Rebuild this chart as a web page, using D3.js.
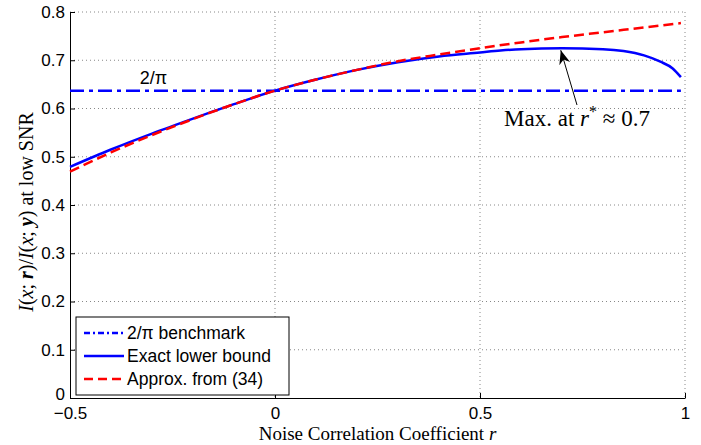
<!DOCTYPE html>
<html><head><meta charset="utf-8">
<script src="https://cdn.jsdelivr.net/npm/d3@7"></script>
<style>body{margin:0;background:#fff}svg{display:block}</style>
</head><body>
<svg id="c" width="701" height="445"></svg>
<script>
const rExact = [-0.5,-0.4,-0.3,-0.2,-0.1,0,0.1,0.2,0.3,0.4,0.5,0.55,0.6,0.7,0.8,0.85,0.9,0.94,0.97,0.99];
const vExact = [0.479,0.515,0.548,0.579,0.609,0.637,0.660,0.680,0.696,0.708,0.716,0.720,0.723,0.725,0.723,0.719,0.710,0.697,0.683,0.665];
const rApprox = [-0.5,-0.4,-0.3,-0.2,-0.1,0,0.1,0.2,0.3,0.4,0.5,0.6,0.7,0.8,0.9,0.99];
const vApprox = [0.469,0.509,0.545,0.578,0.609,0.637,0.660,0.680,0.698,0.712,0.725,0.737,0.748,0.758,0.768,0.777];
const benchmark = 0.6366;
const xTicks = [-0.5,0,0.5,1];
const yTicks = [0,0.1,0.2,0.3,0.4,0.5,0.6,0.7,0.8];
const legendLabels = ["2/\u03c0 benchmark","Exact lower bound","Approx. from (34)"];

const svg = d3.select("#c");
const L=70,R=685,T=12,B=398;
const x = d3.scaleLinear().domain([-0.5,1]).range([L,R]);
const y = d3.scaleLinear().domain([0,0.8]).range([B,T]);
const sans = "Liberation Sans, Arial, sans-serif";
const serif = "Liberation Serif, Times New Roman, serif";

// grid
const g = svg.append("g");
g.selectAll(".gx").data(xTicks.slice(1)).enter().append("line")
 .attr("x1",d=>x(d)).attr("x2",d=>x(d)).attr("y1",T).attr("y2",B)
 .attr("stroke","#888").attr("stroke-width",1).attr("stroke-dasharray","1,3");
g.selectAll(".gy").data(yTicks.slice(1)).enter().append("line")
 .attr("x1",L).attr("x2",R).attr("y1",d=>y(d)).attr("y2",d=>y(d))
 .attr("stroke","#888").attr("stroke-width",1).attr("stroke-dasharray","1,3");

// axes
const xa = svg.append("g").attr("transform",`translate(0,${B})`)
 .call(d3.axisBottom(x).tickValues(xTicks).tickSizeInner(-5).tickSizeOuter(0).tickPadding(9).tickFormat(d=>d===0?"0":(d===1?"1":String(d).replace("-","\u2212"))));
const ya = svg.append("g").attr("transform",`translate(${L},0)`)
 .call(d3.axisLeft(y).tickValues(yTicks).tickSizeInner(-5).tickSizeOuter(0).tickPadding(5).tickFormat(d=>d===0?"0":d3.format(".1f")(d)));
[xa,ya].forEach(a=>{a.select(".domain").attr("stroke","#000").attr("stroke-width",1);
 a.selectAll("text").attr("font-family",sans).attr("font-size",17).attr("fill","#000");
 a.selectAll(".tick line").attr("stroke","#000");});
ya.selectAll(".tick text").filter(d=>d===0).attr("dy","0.1em");

// lines
const line = d3.line().x(d=>x(d[0])).y(d=>y(d[1]));
svg.append("line").attr("x1",x(-0.5)).attr("x2",x(0.99)).attr("y1",y(benchmark)).attr("y2",y(benchmark))
 .attr("stroke","#0000ff").attr("stroke-width",2.5).attr("stroke-dasharray","14,5,4,5");
svg.append("path").datum(rExact.map((r,i)=>[r,vExact[i]])).attr("d",line.curve(d3.curveMonotoneX))
 .attr("fill","none").attr("stroke","#0000ff").attr("stroke-width",2.5);
svg.append("path").datum(rApprox.map((r,i)=>[r,vApprox[i]])).attr("d",line.curve(d3.curveMonotoneX))
 .attr("fill","none").attr("stroke","#ff0000").attr("stroke-width",2.5).attr("stroke-dasharray","10,5");

// 2/pi label
svg.append("text").attr("x",x(-0.33)).attr("y",y(benchmark)-7).attr("font-family",sans).attr("font-size",18).text("2/\u03c0");

// annotation
svg.append("defs").append("marker").attr("id","ah").attr("viewBox","0 0 10 10").attr("refX",10).attr("refY",5)
 .attr("markerWidth",14).attr("markerHeight",14).attr("markerUnits","userSpaceOnUse").attr("orient","auto")
 .append("path").attr("d","M0,1 L10,5 L0,9 L3,5 Z").attr("fill","#000");
svg.append("line").attr("x1",577).attr("y1",105).attr("x2",x(0.697)).attr("y2",y(0.725)+2)
 .attr("stroke","#000").attr("stroke-width",1).attr("marker-end","url(#ah)");
const an = svg.append("text").attr("x",577).attr("y",126).attr("text-anchor","middle").attr("font-family",serif).attr("font-size",23);
an.append("tspan").text("Max. at ");
an.append("tspan").attr("font-style","italic").text("r");
an.append("tspan").attr("dy",-9).attr("font-size",16).text("*");
an.append("tspan").attr("dy",9).text(" \u2248 0.7");

// x label
const xl = svg.append("text").attr("x",(L+R)/2).attr("y",440).attr("text-anchor","middle").attr("font-family",serif).attr("font-size",19);
xl.append("tspan").text("Noise Correlation Coefficient ");
xl.append("tspan").attr("font-style","italic").text("r");

// y label
const yl = svg.append("text").attr("transform",`translate(33,212) rotate(-90)`).attr("text-anchor","middle").attr("font-family",serif).attr("font-size",20);
[["I","i"],["(",""],["x","i"],["; ",""],["r","bi"],[")/",""],["I","i"],["(",""],["x","i"],["; ",""],["y","bi"],[")",""],[" at low SNR",""]]
.forEach(([t,s])=>{const ts=yl.append("tspan").text(t);
 if(s.includes("i"))ts.attr("font-style","italic"); if(s.includes("b"))ts.attr("font-weight","bold");});

// legend
const lg = svg.append("g");
lg.append("rect").attr("x",76).attr("y",317).attr("width",213).attr("height",78).attr("fill","#fff").attr("stroke","#000").attr("stroke-width",1);
const styles=[{c:"#0000ff",d:"6,3,2,3"},{c:"#0000ff",d:null},{c:"#ff0000",d:"9,5"}];
legendLabels.forEach((t,i)=>{const yy=333+i*23;
 const l=lg.append("line").attr("x1",84).attr("x2",124).attr("y1",yy).attr("y2",yy).attr("stroke",styles[i].c).attr("stroke-width",2.5);
 if(styles[i].d)l.attr("stroke-dasharray",styles[i].d);
 lg.append("text").attr("x",127).attr("y",yy+6).attr("font-family",sans).attr("font-size",17.5).text(t);});
</script></body></html>
